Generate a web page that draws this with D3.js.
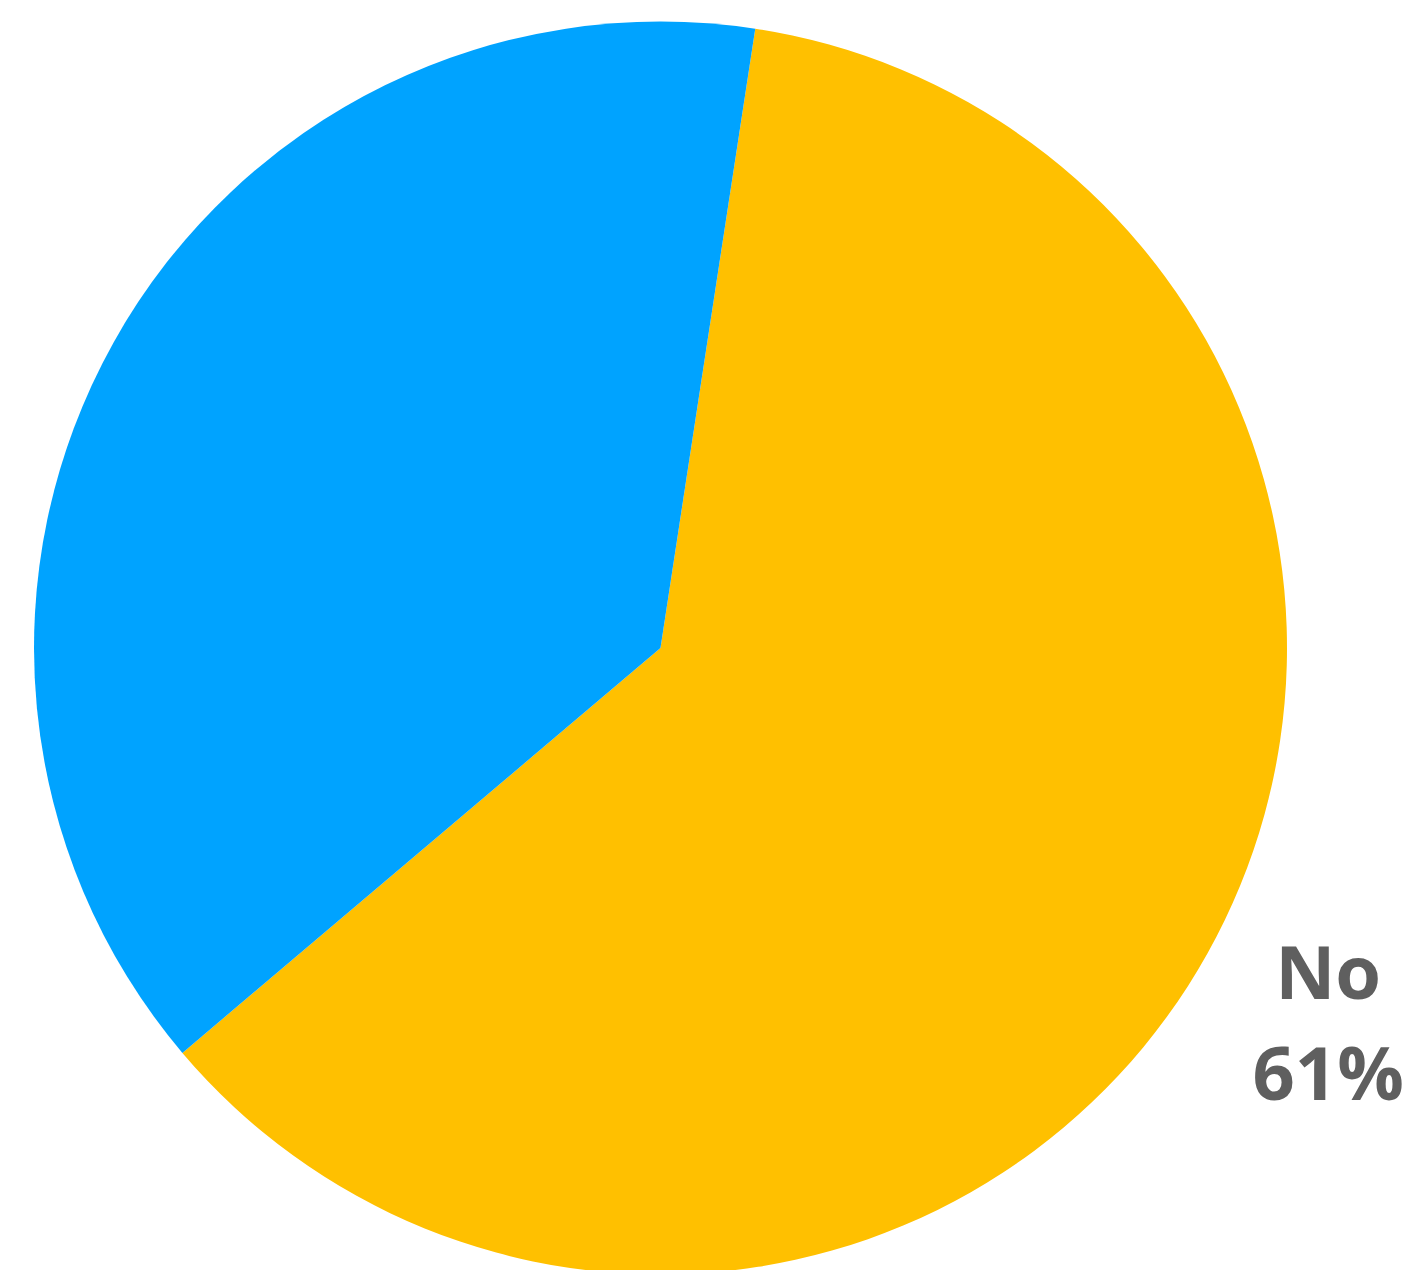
<!DOCTYPE html>
<html>
<head>
<meta charset="utf-8">
<script src="https://cdn.jsdelivr.net/npm/d3@7"></script>
<style>
  html, body { margin: 0; padding: 0; background: #fff; overflow: hidden; }
  svg { display: block; }
</style>
</head>
<body>
<svg id="chart" width="1408" height="1270"></svg>
<script>
// data
var categories = ["No", "Yes"];
var shares = [61.4, 38.6];
var colors = ["#ffc000", "#00a3ff"];
var shownLabels = ["No"]; // the "Yes" label falls outside the picture

var svg = d3.select("#chart");
var cx = 660.5, cy = 648, radius = 626.5;
var start = 8.7 * Math.PI / 180;

var pie = d3.pie()
    .sort(null)
    .startAngle(start)
    .endAngle(start + 2 * Math.PI);

var arcs = pie(shares);
var arc = d3.arc().innerRadius(0).outerRadius(radius);
var labelArc = d3.arc().innerRadius(765).outerRadius(765);

var g = svg.append("g").attr("transform", "translate(" + cx + "," + cy + ")");

g.selectAll("path.slice")
    .data(arcs)
    .enter().append("path")
    .attr("class", "slice")
    .attr("d", arc)
    .attr("fill", function(d, i) { return colors[i]; });

var labels = g.selectAll("text.lbl")
    .data(arcs.filter(function(d, i) { return shownLabels.indexOf(categories[i]) >= 0; }))
    .enter().append("text")
    .attr("class", "lbl")
    .attr("text-anchor", "middle")
    .attr("font-family", "'Open Sans', 'DejaVu Sans', sans-serif")
    .attr("font-weight", 700)
    .attr("font-size", 74)
    .attr("fill", "#5f5f5f")
    .attr("transform", function(d) {
        var c = labelArc.centroid(d);
        return "translate(" + c[0] + "," + c[1] + ")";
    });

labels.append("tspan")
    .attr("x", 0)
    .attr("y", -22)
    .text(function(d) { return categories[d.index]; });
labels.append("tspan")
    .attr("x", 0)
    .attr("y", 79)
    .text(function(d) { return Math.round(d.value) + "%"; });
</script>
</body>
</html>
